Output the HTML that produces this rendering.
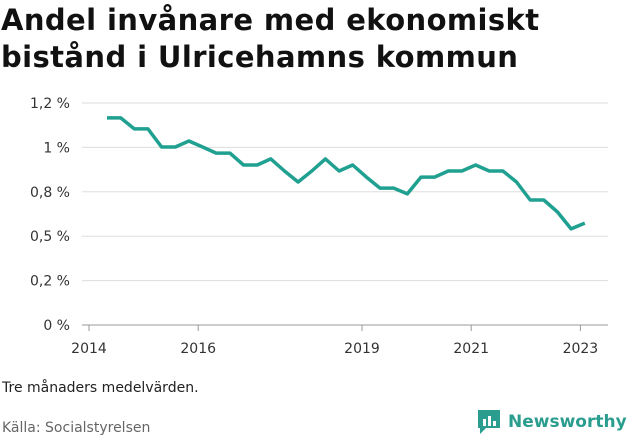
<!DOCTYPE html>
<html><head><meta charset="utf-8"><style>
body{margin:0;width:631px;height:439px;background:#fff;font-family:"DejaVu Sans","Liberation Sans",sans-serif;overflow:hidden;position:relative}
.t{position:absolute;left:1px;top:2px;font-size:29px;font-weight:bold;line-height:37px;color:#111;letter-spacing:0.4px}
.note{position:absolute;left:2px;top:380px;font-size:14px;color:#222}
.src{position:absolute;left:2px;top:420px;font-size:14px;color:#666}
.brand{position:absolute;left:476px;top:408px;display:flex;align-items:center;font-size:17px;font-weight:bold;color:#2a9d8f}
</style></head><body>
<div class="t">Andel invånare med ekonomiskt<br>bistånd i Ulricehamns kommun</div>
<svg id="c" width="631" height="370" style="position:absolute;left:0;top:0;font-family:'DejaVu Sans',sans-serif"></svg>
<div class="note">Tre månaders medelvärden.</div>
<div class="src">Källa: Socialstyrelsen</div>
<div class="brand"><svg width="26" height="28" style="margin-right:6px"><path d="M2 2h22v18H10l-6 6v-6H2z" fill="#2a9d8f"/><rect x="7" y="11" width="3" height="7" fill="#fff"/><rect x="12" y="8" width="3" height="10" fill="#fff"/><rect x="17" y="13" width="3" height="5" fill="#fff"/></svg>Newsworthy</div>
<script>
const values=[1.166,1.166,1.104,1.104,1.002,1.002,1.036,1.002,0.968,0.968,0.901,0.901,0.935,0.867,0.805,0.867,0.935,0.867,0.901,0.833,0.771,0.771,0.738,0.833,0.833,0.867,0.867,0.901,0.867,0.867,0.805,0.704,0.704,0.636,0.541,0.574];
const startYear=2014.33;
const yTicks=[0,0.25,0.5,0.75,1,1.25];
const yLabels=["0 %","0,2 %","0,5 %","0,8 %","1 %","1,2 %"];
const xTicks=[2014,2016,2019,2021,2023];
const svg=document.getElementById('c');
const NS='http://www.w3.org/2000/svg';
const X=t=>89+(t-2014)*54.6;
const Y=v=>325-v*177.6;
function mk(tag,a){const e=document.createElementNS(NS,tag);for(const k in a)e.setAttribute(k,a[k]);svg.appendChild(e);return e;}
yTicks.forEach((v,i)=>{
 const l=mk('line',{x1:82,x2:608,y1:Y(v),y2:Y(v),stroke:i==0?'#999':'#ddd','stroke-width':1});
 
 
 const t=mk('text',{x:70,y:Y(v)+5,'text-anchor':'end','font-size':14,fill:'#333'});
 t.textContent=yLabels[i];
 
 
});
xTicks.forEach(y=>{
 const l=mk('line',{x1:X(y),x2:X(y),y1:325,y2:331,stroke:'#999'});
 
 
 const t=mk('text',{x:X(y),y:353,'text-anchor':'middle','font-size':14,fill:'#333'});
 t.textContent=y;
 
 
});
const pts=values.map((v,i)=>X(startYear+i*0.25).toFixed(1)+','+Y(v).toFixed(1)).join(' ');
const p=mk('polyline',{points:pts,fill:'none',stroke:'#20a090','stroke-width':3.5,'stroke-linejoin':'round'});


</script>
</body></html>
